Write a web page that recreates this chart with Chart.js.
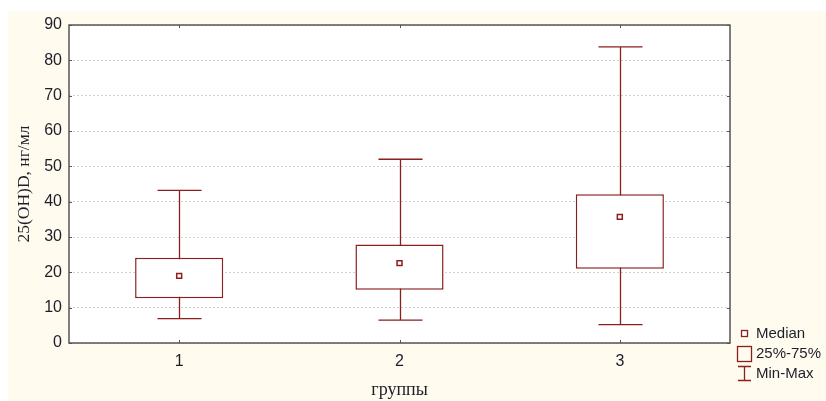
<!DOCTYPE html>
<html>
<head>
<meta charset="utf-8">
<script src="https://cdn.jsdelivr.net/npm/chart.js@4"></script>
<style>
  html, body { margin: 0; padding: 0; background: #fff; }
  #wrap { width: 826px; height: 401px; }
</style>
</head>
<body>
<div id="wrap"><canvas id="chart" width="826" height="401"></canvas></div>
<script>
// values
const groups = ['1', '2', '3'];
const mins = [6.9, 6.5, 5.2];
const q1s = [12.7, 15.1, 21.0];
const medians = [19.0, 22.6, 35.7];
const q3s = [24.1, 27.9, 42.1];
const maxs = [43.2, 52.0, 83.8];
const yTicks = [0, 10, 20, 30, 40, 50, 60, 70, 80, 90];

const RED = '#8b1f1f';
const CREAM = '#fffbef';
const TEXT = '#1e1e2a';
const SANS = '"Liberation Sans", Arial, sans-serif';
const SERIF = '"Liberation Serif", "Times New Roman", serif';

// backgrounds, whiskers, frame and legend
const boxPlotPlugin = {
    id: 'boxPlot',
    beforeDraw(chart) {
        const { ctx, chartArea: a } = chart;
        ctx.save();
        ctx.fillStyle = '#fff';
        ctx.fillRect(0, 0, chart.width, chart.height);
        ctx.fillStyle = CREAM;
        ctx.fillRect(8, 11, chart.width - 8, chart.height - 11);
        ctx.fillStyle = '#fff';
        ctx.fillRect(a.left, a.top, a.right - a.left, a.bottom - a.top);
        ctx.restore();
    },
    beforeDatasetsDraw(chart) {
        const { ctx, scales: { x, y } } = chart;
        const step = x.getPixelForValue(1) - x.getPixelForValue(0);
        const cap = step * 0.1;
        ctx.save();
        ctx.strokeStyle = RED;
        ctx.lineWidth = 1.3;
        groups.forEach((g, i) => {
            const cx = Math.round(x.getPixelForValue(i)) + 0.5;
            const yMin = y.getPixelForValue(mins[i]);
            const yMax = y.getPixelForValue(maxs[i]);
            ctx.beginPath();
            ctx.moveTo(cx, yMin);
            ctx.lineTo(cx, yMax);
            ctx.moveTo(cx - cap, yMin);
            ctx.lineTo(cx + cap, yMin);
            ctx.moveTo(cx - cap, yMax);
            ctx.lineTo(cx + cap, yMax);
            ctx.stroke();
        });
        ctx.restore();
    },
    afterDraw(chart) {
        const { ctx, chartArea: a, scales: { x, y } } = chart;
        ctx.save();
        // frame
        ctx.strokeStyle = '#555';
        ctx.lineWidth = 1.5;
        ctx.strokeRect(a.left, a.top, a.right - a.left, a.bottom - a.top);
        // inward ticks
        ctx.lineWidth = 1;
        ctx.beginPath();
        yTicks.forEach(v => {
            const py = Math.round(y.getPixelForValue(v)) + 0.5;
            ctx.moveTo(a.left, py); ctx.lineTo(a.left + 3, py);
            ctx.moveTo(a.right, py); ctx.lineTo(a.right - 3, py);
        });
        groups.forEach((g, i) => {
            const px = Math.round(x.getPixelForValue(i)) + 0.5;
            ctx.moveTo(px, a.top); ctx.lineTo(px, a.top + 3);
            ctx.moveTo(px, a.bottom); ctx.lineTo(px, a.bottom - 3);
        });
        ctx.stroke();

        // legend
        const lx = a.right + 7;
        ctx.font = '15px ' + SANS;
        ctx.fillStyle = TEXT;
        ctx.textBaseline = 'middle';
        ctx.fillText('Median', lx + 19, 334);
        ctx.fillText('25%-75%', lx + 19, 354);
        ctx.fillText('Min-Max', lx + 19, 374);
        ctx.strokeStyle = RED;
        ctx.lineWidth = 1.3;
        ctx.fillStyle = '#fff';
        ctx.fillRect(lx + 4.5, 330.5, 6, 6);
        ctx.strokeRect(lx + 4.5, 330.5, 6, 6);
        ctx.strokeRect(lx + 0.5, 346.5, 14, 15);
        ctx.beginPath();
        ctx.moveTo(lx + 7.5, 366); ctx.lineTo(lx + 7.5, 381);
        ctx.moveTo(lx + 1, 366.5); ctx.lineTo(lx + 14, 366.5);
        ctx.moveTo(lx + 1, 380.5); ctx.lineTo(lx + 14, 380.5);
        ctx.stroke();
        ctx.restore();
    }
};

new Chart(document.getElementById('chart'), {
    type: 'bar',
    data: {
        labels: groups,
        datasets: [
            {
                type: 'line',
                label: 'Median',
                data: medians,
                showLine: false,
                pointStyle: 'rect',
                pointRadius: 3.5,
                pointHoverRadius: 3.5,
                pointBackgroundColor: '#fff',
                pointBorderColor: RED,
                pointBorderWidth: 1.5,
                order: 0
            },
            {
                label: '25%-75%',
                data: groups.map((g, i) => [q1s[i], q3s[i]]),
                backgroundColor: '#fff',
                borderColor: RED,
                borderWidth: 1.5,
                borderSkipped: false,
                barPercentage: 0.4,
                categoryPercentage: 1,
                order: 1
            }
        ]
    },
    options: {
        responsive: false,
        animation: false,
        layout: { padding: { left: 0, top: 25, right: 96, bottom: 0 } },
        plugins: {
            legend: { display: false },
            tooltip: { enabled: false }
        },
        scales: {
            x: {
                grid: { display: false, drawTicks: false },
                border: { display: false },
                ticks: {
                    color: TEXT,
                    padding: 9,
                    font: { family: SANS, size: 16 }
                },
                title: {
                    display: true,
                    text: 'группы',
                    color: TEXT,
                    padding: { top: 0, bottom: 0 },
                    font: { family: SERIF, size: 18 }
                },
                afterFit(scale) { scale.height = 58; }
            },
            y: {
                min: 0,
                max: 90,
                afterBuildTicks(scale) { scale.ticks = yTicks.map(v => ({ value: v })); },
                grid: { color: '#d2d2d2', lineWidth: 1, drawTicks: false },
                border: { display: false, dash: [2, 2] },
                ticks: {
                    color: TEXT,
                    padding: 7,
                    font: { family: SANS, size: 16 }
                },
                title: {
                    display: true,
                    text: '25(OH)D, нг/мл',
                    color: TEXT,
                    padding: { top: 14, bottom: 0 },
                    font: { family: SERIF, size: 17.5 }
                },
                afterFit(scale) { scale.width = 69; }
            }
        }
    },
    plugins: [boxPlotPlugin]
});
</script>
</body>
</html>
